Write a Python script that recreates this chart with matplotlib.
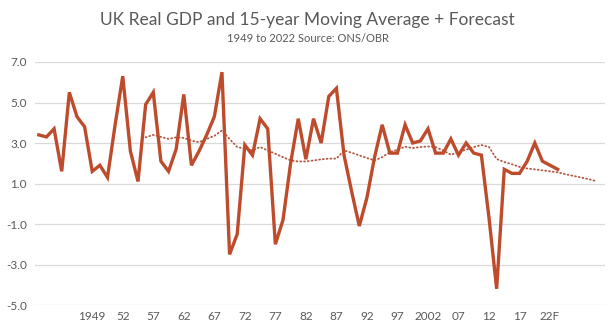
import numpy as np
import matplotlib
matplotlib.use("Agg")
import matplotlib.pyplot as plt

# annual real GDP growth, % (1949 - 2017)
years = list(range(1949, 2018))
gdp = [3.4, 3.3, 3.7, 1.6, 5.5, 4.3, 3.8, 1.6, 1.9, 1.3,
       3.9, 6.3, 2.6, 1.1, 4.9, 5.5, 2.1, 1.6, 2.7, 5.4,
       1.9, 2.6, 3.4, 4.3, 6.5, -2.5, -1.5, 2.9, 2.4, 4.2,
       3.7, -2.0, -0.8, 2.0, 4.2, 2.2, 4.2, 3.0, 5.3, 5.7,
       2.4, 0.6, -1.1, 0.3, 2.3, 3.9, 2.5, 2.5, 3.9, 3.0,
       3.1, 3.7, 2.5, 2.5, 3.2, 2.4, 3.0, 2.5, 2.4, -0.7,
       -4.2, 1.7, 1.5, 1.5, 2.1, 3.0, 2.1, 1.9, 1.7]

# 15-year moving average (1963 - 2017) plus forecast to 2022
ma_years = list(range(1963, 2023))
ma = [3.28, 3.4, 3.3, 3.2, 3.28, 3.25, 3.12, 3.04, 3.2, 3.35,
      3.62, 3.2, 2.8, 2.72, 2.63, 2.8, 2.63, 2.47, 2.3, 2.14,
      2.09, 2.09, 2.14, 2.19, 2.23, 2.23, 2.63, 2.52, 2.39, 2.26,
      2.14, 2.3, 2.55, 2.67, 2.82, 2.75, 2.8, 2.83, 2.8, 2.63,
      2.42, 2.55, 2.67, 2.8, 2.9, 2.8, 2.21, 2.06, 1.95, 1.82,
      1.74, 1.7, 1.65, 1.6, 1.55, 1.46, 1.38, 1.3, 1.22, 1.12]

tick_pos = list(range(7, 68, 4))
tick_labels = ["1949", "52", "57", "62", "67", "72", "77", "82", "87",
               "92", "97", "2002", "07", "12", "17", "22F"]

text_col = "#595959"
line_col = "#BE4B2C"

plt.rcParams['font.family'] = ['Lato', 'DejaVu Sans']

fig = plt.figure(figsize=(6.15, 3.33), dpi=100)
ax = fig.add_axes([35/615, 1 - 305/333, 570/615, 243/333])

x = np.array(years) - 1949
xm = np.array(ma_years) - 1949
ax.plot(x, gdp, color=line_col, lw=2.4, solid_joinstyle='miter', zorder=3)
# dotted moving average line
ax.plot(xm, ma, color="#B5573F", lw=1.3, ls=(0, (0.5, 1.6)),
        dash_capstyle='round', zorder=2)

ax.set_xlim(-0.5, 74.2)
ax.set_ylim(-5, 7)
ax.set_yticks([-5, -3, -1, 1, 3, 5, 7])
ax.set_yticklabels(["%.1f" % v for v in [-5, -3, -1, 1, 3, 5, 7]])
ax.set_xticks(tick_pos)
ax.set_xticklabels(tick_labels)
ax.tick_params(length=0, colors=text_col, labelsize=8.5)
ax.tick_params(axis='y', pad=6)
ax.tick_params(axis='x', pad=4)
ax.grid(axis='y', color="#D9D9D9", lw=0.9)
ax.set_axisbelow(True)
for s in ax.spines.values():
    s.set_visible(False)

fig.text(0.5, 1 - 20/333, "UK Real GDP and 15-year Moving Average + Forecast",
         ha='center', va='center', fontsize=12.5, color=text_col)
fig.text(0.5, 1 - 38/333, "1949 to 2022 Source: ONS/OBR",
         ha='center', va='center', fontsize=8, color=text_col)

fig.savefig("out.png", dpi=100)
